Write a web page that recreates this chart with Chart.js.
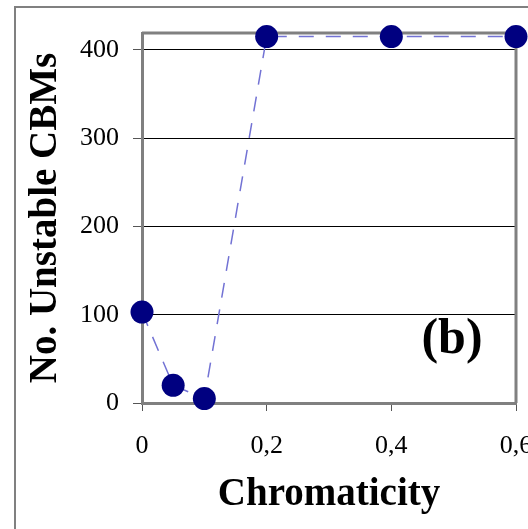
<!DOCTYPE html>
<html>
<head>
<meta charset="utf-8">
<script src="https://cdn.jsdelivr.net/npm/chart.js@4.4.1/dist/chart.umd.min.js"></script>
<style>
  html, body { margin: 0; padding: 0; background: #fff; overflow: hidden; }
  #wrap { width: 528px; height: 529px; overflow: hidden; position: relative; }
  canvas { position: absolute; left: 0; top: 0; }
</style>
</head>
<body>
<div id="wrap"><canvas id="chart" width="600" height="529"></canvas></div>
<script>
// data
const chromaticity = [0, 0.05, 0.1, 0.2, 0.4, 0.6];
const unstableCBMs = [103, 20, 5, 415, 415, 415];
const xTicks = [0, 0.2, 0.4, 0.6];
const xTickLabels = ["0", "0,2", "0,4", "0,6"];
const yTicks = [0, 100, 200, 300, 400];
const yTickLabels = ["0", "100", "200", "300", "400"];

const serif = "'Liberation Serif', 'Times New Roman', serif";

// gray frame round the page and top/right edge of the plot
const framePlugin = {
  id: "frame",
  beforeDraw(chart) {
    const c = chart.ctx;
    c.save();
    c.strokeStyle = "#808080";
    c.lineWidth = 2;
    c.beginPath();
    c.moveTo(15, 529);
    c.lineTo(15, 7);
    c.lineTo(600, 7);
    c.stroke();
    c.restore();
  },
  beforeDatasetsDraw(chart) {
    const a = chart.chartArea;
    const c = chart.ctx;
    c.save();
    c.strokeStyle = "#808080";
    c.lineWidth = 3;
    c.beginPath();
    c.moveTo(a.left, a.top);
    c.lineTo(a.right, a.top);
    c.lineTo(a.right, a.bottom);
    c.stroke();
    c.restore();
  },
  afterDraw(chart) {
    const a = chart.chartArea;
    const c = chart.ctx;
    c.save();
    c.fillStyle = "#000";
    c.font = "bold 50px " + serif;
    c.textAlign = "center";
    c.textBaseline = "alphabetic";
    c.fillText("(b)", a.right - 64, a.bottom - 50);
    c.restore();
  }
};

new Chart(document.getElementById("chart"), {
  type: "line",
  data: {
    datasets: [{
      data: chromaticity.map((x, i) => ({ x: x, y: unstableCBMs[i] })),
      borderColor: "#7272d4",
      borderWidth: 1.5,
      borderDash: [15, 12],
      pointRadius: 11.5,
      pointBackgroundColor: "#000080",
      pointBorderColor: "#000080",
      pointBorderWidth: 0,
      tension: 0,
      clip: false
    }]
  },
  options: {
    responsive: false,
    animation: false,
    devicePixelRatio: 1,
    layout: { padding: { left: 0, top: 33, right: 84, bottom: 0 } },
    plugins: { legend: { display: false }, tooltip: { enabled: false } },
    scales: {
      x: {
        type: "linear",
        min: 0,
        max: 0.6,
        afterFit(scale) { scale.height = 126; },
        afterBuildTicks(scale) { scale.ticks = xTicks.map(v => ({ value: v })); },
        grid: { drawOnChartArea: false, drawTicks: true, tickLength: 8, color: "#555", lineWidth: 1 },
        border: { display: true, color: "#808080", width: 3 },
        ticks: {
          color: "#000",
          font: { family: serif, size: 26 },
          padding: 20,
          maxRotation: 0,
          callback: (v, i) => xTickLabels[i]
        },
        title: {
          display: true,
          text: "Chromaticity",
          color: "#000",
          font: { family: serif, size: 39, weight: "bold" },
          padding: { top: 0, bottom: 11 }
        }
      },
      y: {
        min: 0,
        max: 419,
        afterFit(scale) { scale.width = 142; },
        afterBuildTicks(scale) { scale.ticks = yTicks.map(v => ({ value: v })); },
        grid: { color: "#000", lineWidth: 1, tickLength: 9, tickColor: "#555" },
        border: { display: true, color: "#808080", width: 3 },
        ticks: {
          color: "#000",
          font: { family: serif, size: 26 },
          padding: 14,
          callback: (v, i) => yTickLabels[i]
        },
        title: {
          display: true,
          text: "No. Unstable CBMs",
          color: "#000",
          font: { family: serif, size: 39, weight: "bold" },
          padding: { top: 23, bottom: 0 }
        }
      }
    }
  },
  plugins: [framePlugin]
});
</script>
</body>
</html>
